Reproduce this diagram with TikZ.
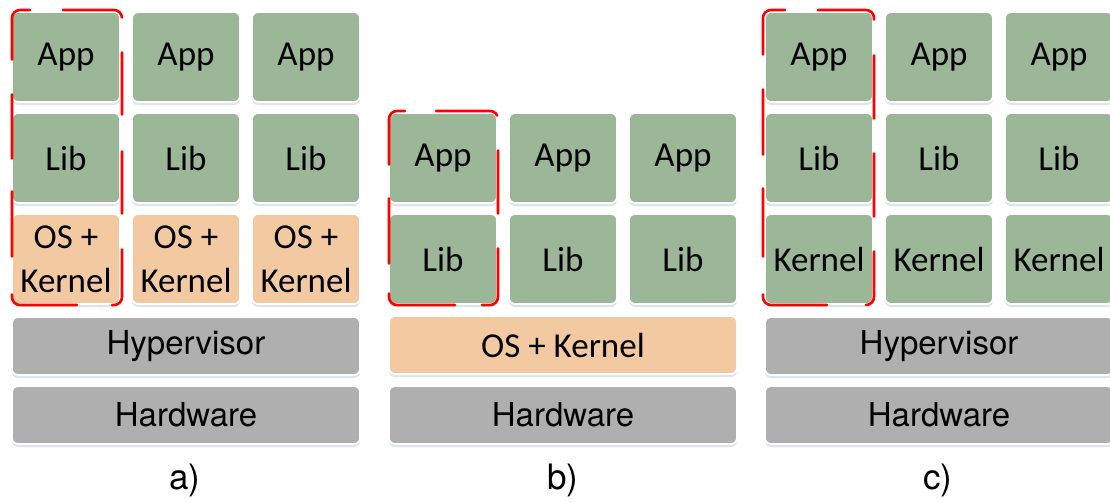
\documentclass[tikz,border=0pt]{standalone}
\usepackage{fontspec}
\setmainfont{Carlito}
\newfontfamily\helv{TeX Gyre Heros}
\usetikzlibrary{shadows}
\definecolor{gfill}{HTML}{9BB798}
\definecolor{ofill}{HTML}{F2C9A0}
\definecolor{hfill}{HTML}{AFAFAF}
\definecolor{shcol}{HTML}{B8C4DA}
\tikzset{
  base/.style={rounded corners=6pt, draw=white, line width=1.8pt, inner sep=0pt,
    drop shadow={shadow xshift=0pt, shadow yshift=-3pt, fill=shcol, opacity=0.45}},
  gbox/.style={base, fill=gfill, minimum width=108pt, minimum height=90pt,
    font=\fontsize{35}{44}\selectfont, align=center},
  obox/.style={gbox, fill=ofill},
  wbox/.style={base, fill=hfill, minimum width=348pt, minimum height=58pt,
    font=\helv\fontsize{33}{40}\selectfont},
  wobox/.style={base, fill=ofill, minimum width=348pt, minimum height=58pt,
    font=\fontsize{35}{41}\selectfont},
  lbl/.style={font=\helv\fontsize{35}{40}\selectfont},
  redline/.style={draw=red, line width=2.6pt, rounded corners=8pt, line cap=round}
}
\begin{document}
\begin{tikzpicture}[x=1pt,y=-1pt]
\useasboundingbox[fill=white] (0,0) rectangle (1110,501);
% ---------- a)
\node[gbox] (a11) at (66,57) {App};
\node[gbox] (a12) at (186,57) {App};
\node[gbox] (a13) at (306,57) {App};
\node[gbox] (a21) at (66,158) {Lib};
\node[gbox] (a22) at (186,158) {Lib};
\node[gbox] (a23) at (306,158) {Lib};
\node[obox] (a31) at (66,259) {OS +\\Kernel};
\node[obox] (a32) at (186,259) {OS +\\Kernel};
\node[obox] (a33) at (306,259) {OS +\\Kernel};
\node[wbox] (ahyp) at (186,346) {Hypervisor};
\node[wbox] (ahw) at (186,415) {Hardware};
\node[lbl] (la) at (185,480) {a)};
\draw[redline, dash pattern=on 63pt off 35pt on 62pt off 37pt on 62pt off 36pt on 62pt off 35pt on 72pt off 38pt on 65pt off 33pt on 64pt off 35pt on 64pt off 40pt]
  (55,10) -- (122,10) -- (122,305) -- (12,305) -- (12,10) -- cycle;
% ---------- b)
\node[gbox] (b11) at (443,158) {App};
\node[gbox] (b12) at (563,158) {App};
\node[gbox] (b13) at (683,158) {App};
\node[gbox] (b21) at (443,259) {Lib};
\node[gbox] (b22) at (563,259) {Lib};
\node[gbox] (b23) at (683,259) {Lib};
\node[wobox] (bos) at (563,345) {OS + Kernel};
\node[wbox] (bhw) at (563,415) {Hardware};
\node[lbl] (lb) at (563,480) {b)};
\draw[redline, dash pattern=on 63pt off 35pt on 63pt off 35pt on 69pt off 27pt on 74pt off 30pt on 65pt off 34pt on 66pt off 40pt]
  (428,111) -- (498,111) -- (498,305) -- (389,305) -- (389,111) -- cycle;
% ---------- c)
\node[gbox] (c11) at (819,57) {App};
\node[gbox] (c12) at (939,57) {App};
\node[gbox] (c13) at (1059,57) {App};
\node[gbox] (c21) at (819,158) {Lib};
\node[gbox] (c22) at (939,158) {Lib};
\node[gbox] (c23) at (1059,158) {Lib};
\node[gbox] (c31) at (819,259) {Kernel};
\node[gbox] (c32) at (939,259) {Kernel};
\node[gbox] (c33) at (1059,259) {Kernel};
\node[wbox] (chyp) at (939,346) {Hypervisor};
\node[wbox] (chw) at (939,415) {Hardware};
\node[lbl] (lc) at (938,480) {c)};
\draw[redline, dash pattern=on 62pt off 36pt on 63pt off 35pt on 63pt off 35pt on 58pt off 39pt on 71pt off 38pt on 68pt off 34pt on 65pt off 35pt on 63pt off 40pt]
  (810,10) -- (874,10) -- (874,305) -- (763,305) -- (763,10) -- cycle;
\end{tikzpicture}
\end{document}
